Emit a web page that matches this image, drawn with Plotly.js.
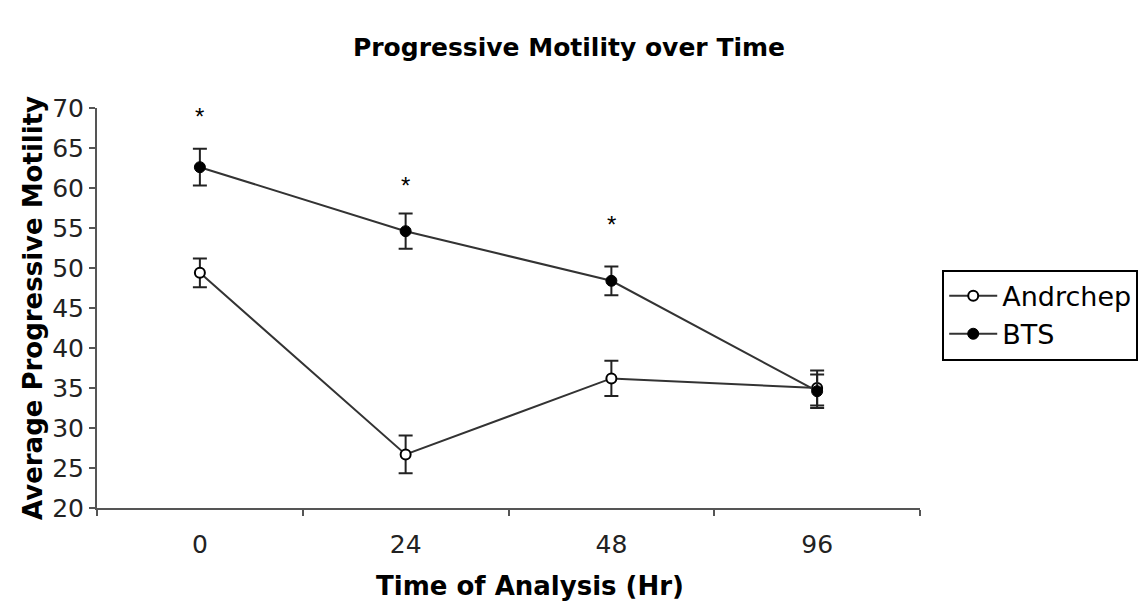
<!DOCTYPE html>
<html>
<head>
<meta charset="utf-8">
<script src="https://cdn.plot.ly/plotly-3.0.1.min.js"></script>
<style>html,body{margin:0;padding:0;background:#fff;}#chart{width:1138px;height:609px;}</style>
</head>
<body>
<div id="chart"></div>
<script>
const timeLabels = ["0", "24", "48", "96"];
const andrchepMean = [49.4, 26.7, 36.2, 35.0];
const andrchepErr = [1.8, 2.35, 2.2, 2.2];
const btsMean = [62.6, 54.6, 48.4, 34.6];
const btsErr = [2.3, 2.2, 1.8, 2.1];
const starLabels = ["0", "24", "48"];
const starY = [69.4, 60.8, 55.9];

const font = "Liberation Sans, Arial, sans-serif";
const wide = "DejaVu Sans, Verdana, sans-serif";

const traces = [
  {
    x: timeLabels, y: andrchepMean, name: "Andrchep", type: "scatter", mode: "lines+markers",
    line: {color: "#333333", width: 2},
    marker: {symbol: "circle", size: 10, color: "#ffffff", line: {color: "#000000", width: 2}},
    error_y: {type: "data", array: andrchepErr, visible: true, color: "#222222", thickness: 2, width: 7}
  },
  {
    x: timeLabels, y: btsMean, name: "BTS", type: "scatter", mode: "lines+markers",
    line: {color: "#333333", width: 2},
    marker: {symbol: "circle", size: 11, color: "#000000", line: {color: "#000000", width: 1}},
    error_y: {type: "data", array: btsErr, visible: true, color: "#222222", thickness: 2, width: 7}
  }
];

const annotations = starLabels.map((c, i) => ({
  x: timeLabels.indexOf(c), y: starY[i], xref: "x", yref: "y", text: "*", showarrow: false,
  font: {family: font, size: 24, color: "#000"}, yanchor: "middle", yshift: -4
}));
annotations.push({
  text: "Time of Analysis (Hr)", xref: "paper", yref: "paper", x: 0.526, y: -0.195,
  xanchor: "center", yanchor: "middle", showarrow: false,
  font: {family: wide, size: 26, color: "#000", weight: "bold"}
});

const layout = {
  width: 1138, height: 609,
  margin: {l: 97, r: 218, t: 108, b: 101, autoexpand: false},
  paper_bgcolor: "#ffffff", plot_bgcolor: "#ffffff",
  title: {text: "Progressive Motility over Time", x: 0.5, xref: "container", y: 0.923, yanchor: "middle",
    font: {family: wide, size: 25, color: "#000", weight: "bold"}},
  xaxis: {
    type: "category", range: [-0.5, 3.5], tickson: "boundaries",
    showgrid: false, zeroline: false, showline: true, linecolor: "#555555", linewidth: 2,
    ticks: "outside", ticklen: 6, tickcolor: "#555555", tickwidth: 2,
    ticklabelstandoff: 13,
    tickfont: {family: wide, size: 25, color: "#222"},
    automargin: false
  },
  yaxis: {
    range: [20, 70], dtick: 5, showgrid: false, zeroline: false, showline: true,
    linecolor: "#555555", linewidth: 2, ticks: "outside", ticklen: 6, tickcolor: "#555555", tickwidth: 2,
    tickfont: {family: wide, size: 25, color: "#222"},
    title: {text: "Average Progressive Motility", standoff: 2, font: {family: wide, size: 26, color: "#000", weight: "bold"}},
    automargin: false
  },
  showlegend: true,
  legend: {
    x: 1.027, xanchor: "left", y: 0.596, yanchor: "top", itemwidth: 48,
    bgcolor: "#ffffff", bordercolor: "#000000", borderwidth: 2,
    font: {family: wide, size: 27, color: "#000"}
  },
  annotations: annotations
};

Plotly.newPlot("chart", traces, layout, {displayModeBar: false, staticPlot: true});
</script>
</body>
</html>
